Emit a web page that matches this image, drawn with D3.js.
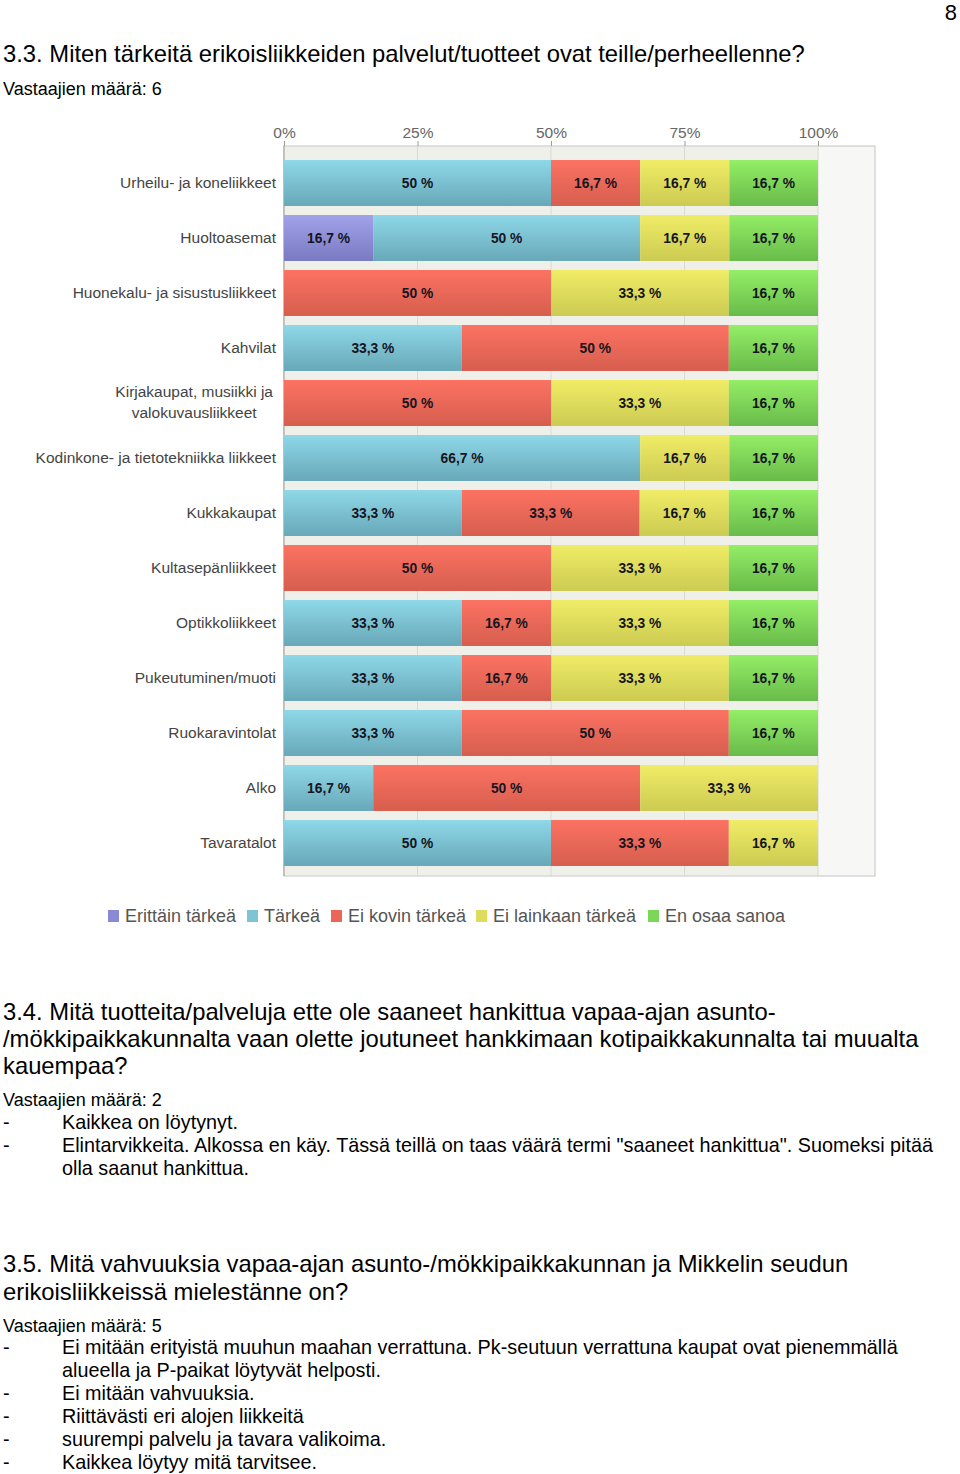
<!DOCTYPE html>
<html><head><meta charset="utf-8">
<script src="https://cdn.jsdelivr.net/npm/d3@7"></script>
<style>
html,body{margin:0;padding:0;background:#fff;}
svg{display:block;}
</style></head>
<body>
<script>
const categories = [
  "Urheilu- ja koneliikkeet",
  "Huoltoasemat",
  "Huonekalu- ja sisustusliikkeet",
  "Kahvilat",
  "Kirjakaupat, musiikki ja|valokuvausliikkeet",
  "Kodinkone- ja tietotekniikka liikkeet",
  "Kukkakaupat",
  "Kultasepänliikkeet",
  "Optikkoliikkeet",
  "Pukeutuminen/muoti",
  "Ruokaravintolat",
  "Alko",
  "Tavaratalot"
];
const seriesNames = ["Erittäin tärkeä","Tärkeä","Ei kovin tärkeä","Ei lainkaan tärkeä","En osaa sanoa"];
const erittainTarkea  = [0,16.7,0,0,0,0,0,0,0,0,0,0,0];
const tarkea          = [50,50,0,33.3,0,66.7,33.3,0,33.3,33.3,33.3,16.7,50];
const eiKovinTarkea   = [16.7,0,50,50,50,0,33.3,50,16.7,16.7,50,50,33.3];
const eiLainkaan      = [16.7,16.7,33.3,0,33.3,16.7,16.7,33.3,33.3,33.3,0,33.3,16.7];
const enOsaaSanoa     = [16.7,16.7,16.7,16.7,16.7,16.7,16.7,16.7,16.7,16.7,16.7,0,0];
const tickValues = [0,25,50,75,100];
const tickLabels = ["0%","25%","50%","75%","100%"];

const colorTop = ["#a2a2ea","#8ed8e8","#fc7262","#f0ec66","#94ee66"];
const colorBot = ["#7a7ac2","#68a8b8","#d65e4e","#cccb52","#68bb4a"];
const legendColor = ["#8a8ad4","#7ec4d2","#ea6656","#dedc5c","#7cd658"];

const seriesValues = [erittainTarkea, tarkea, eiKovinTarkea, eiLainkaan, enOsaaSanoa];
const rows = categories.map((c,i)=>{
  const o = {cat:c};
  seriesNames.forEach((s,j)=>o[s]=seriesValues[j][i]);
  return o;
});

const W=960,H=1474;
const FONT="'Liberation Sans', Arial, sans-serif";
const svg = d3.select("body").append("svg").attr("width",W).attr("height",H)
  .style("font-family",FONT);

const defs = svg.append("defs");
seriesNames.forEach((s,j)=>{
  const g = defs.append("linearGradient").attr("id","g"+j).attr("x1",0).attr("y1",0).attr("x2",0).attr("y2",1);
  g.append("stop").attr("offset","0%").attr("stop-color",colorTop[j]);
  g.append("stop").attr("offset","100%").attr("stop-color",colorBot[j]);
});

// ---- page text ----
function txt(x,y,s,size,opts={}){
  return svg.append("text").attr("x",x).attr("y",y)
    .attr("font-size",size).attr("fill",opts.fill||"#000")
    .attr("text-anchor",opts.anchor||"start").text(s);
}
const TS=23.8, VS=18, BS=19.8;
txt(957,20,"8",22,{anchor:"end"});
txt(3,62,"3.3. Miten tärkeitä erikoisliikkeiden palvelut/tuotteet ovat teille/perheellenne?",TS);
txt(3,95,"Vastaajien määrä: 6",VS);

// ---- chart ----
const x = d3.scaleLinear().domain([0,100]).range([284,818]);
const y = d3.scaleBand().domain(categories).range([155.5,870.5]).paddingInner(0.164).paddingOuter(0.082);
const plotTop=146, plotBot=876, plotRight=875;

svg.append("rect").attr("x",x(0)).attr("y",plotTop).attr("width",plotRight-x(0)).attr("height",plotBot-plotTop)
  .attr("fill","#f7f7f5").attr("stroke","#c4c4c4");
svg.append("rect").attr("x",x(0)).attr("y",plotTop+1).attr("width",x(100)-x(0)).attr("height",plotBot-plotTop-2)
  .attr("fill","#eef0e9");

svg.append("g").selectAll("line").data(tickValues.slice(1)).join("line")
  .attr("x1",d=>x(d)).attr("x2",d=>x(d)).attr("y1",plotTop).attr("y2",plotBot)
  .attr("stroke","#d8dad4");
const xAxis = d3.axisTop(x).tickValues(tickValues).tickFormat((d,i)=>tickLabels[i]).tickSize(5).tickSizeOuter(0);
const ax = svg.append("g").attr("transform",`translate(0,${plotTop})`).call(xAxis);
ax.select(".domain").remove();
ax.selectAll(".tick line").attr("stroke","#999");
ax.selectAll(".tick text").attr("font-size",15.5).attr("fill","#666")
  .attr("font-family",FONT).attr("y",-8);
svg.append("line").attr("x1",x(0)).attr("x2",x(0)).attr("y1",plotTop).attr("y2",plotBot).attr("stroke","#9a9a9a");

const stack = d3.stack().keys(seriesNames)(rows);
const segs = stack.flatMap((ser,j)=>ser.map(p=>({j,key:ser.key,x0:p[0],x1:Math.min(p[1],100),cat:p.data.cat,v:p.data[ser.key]})))
  .filter(s=>s.v>0);
const fmt = v => (v%1===0? String(v) : String(v).replace(".",","))+" %";
svg.append("g").selectAll("rect").data(segs).join("rect")
  .attr("x",d=>x(d.x0)).attr("width",d=>x(d.x1)-x(d.x0))
  .attr("y",d=>y(d.cat)).attr("height",y.bandwidth())
  .attr("fill",d=>`url(#g${d.j})`);
svg.append("g").selectAll("text").data(segs).join("text")
  .attr("x",d=>(x(d.x0)+x(d.x1))/2).attr("y",d=>y(d.cat)+y.bandwidth()/2+5)
  .attr("text-anchor","middle").attr("font-size",13.8).attr("fill","#15151f").attr("font-weight","bold")
  .text(d=>fmt(d.v));

// category labels
const cl = svg.append("g").selectAll("text").data(categories).join("text")
  .attr("font-size",15.5).attr("fill","#444")
  .attr("y",d=>y(d)+y.bandwidth()/2+5);
cl.each(function(d){
  const parts=d.split("|"); const t=d3.select(this);
  if(parts.length===1){t.attr("x",276).attr("text-anchor","end").text(d);}
  else{
    t.attr("text-anchor","middle");
    const a=t.append("tspan").attr("dy",-11).text(parts[0]);
    const b=t.append("tspan").attr("dy",21).text(parts[1]);
    const w=Math.max(a.node().getComputedTextLength(),b.node().getComputedTextLength());
    const cx=273-w/2;
    a.attr("x",cx); b.attr("x",cx);
  }
});

// legend
const legendX = [108,247,331,476,648];
const lg = svg.append("g").selectAll("g").data(seriesNames).join("g")
  .attr("transform",(d,i)=>`translate(${legendX[i]},916)`);
lg.append("rect").attr("x",0).attr("y",-6).attr("width",11).attr("height",12).attr("fill",(d,i)=>legendColor[i]);
lg.append("text").attr("x",17).attr("y",6).attr("font-size",18).attr("fill","#555").text(d=>d);

// ---- section 3.4 ----
const T2 = ["3.4. Mitä tuotteita/palveluja ette ole saaneet hankittua vapaa-ajan asunto-",
            "/mökkipaikkakunnalta vaan olette joutuneet hankkimaan kotipaikkakunnalta tai muualta",
            "kauempaa?"];
const T2y = [1020,1047,1074];
T2.forEach((s,i)=>txt(3,T2y[i],s,TS));
txt(3,1106,"Vastaajien määrä: 2",VS);
const B2 = [["Kaikkea on löytynyt."],
            ["Elintarvikkeita. Alkossa en käy. Tässä teillä on taas väärä termi \"saaneet hankittua\". Suomeksi pitää","olla saanut hankittua."]];
let yy=1129;
B2.forEach(b=>{ txt(3,yy,"-",BS); b.forEach(l=>{txt(62,yy,l,BS); yy+=23;}); });

// ---- section 3.5 ----
const T3 = ["3.5. Mitä vahvuuksia vapaa-ajan asunto-/mökkipaikkakunnan ja Mikkelin seudun",
            "erikoisliikkeissä mielestänne on?"];
[1272,1300].forEach((yv,i)=>txt(3,yv,T3[i],TS));
txt(3,1332,"Vastaajien määrä: 5",VS);
const B3 = [["Ei mitään erityistä muuhun maahan verrattuna. Pk-seutuun verrattuna kaupat ovat pienemmällä","alueella ja P-paikat löytyvät helposti."],
            ["Ei mitään vahvuuksia."],
            ["Riittävästi eri alojen liikkeitä"],
            ["suurempi palvelu ja tavara valikoima."],
            ["Kaikkea löytyy mitä tarvitsee."]];
yy=1354;
B3.forEach(b=>{ txt(3,yy,"-",BS); b.forEach(l=>{txt(62,yy,l,BS); yy+=23;}); });
</script>
</body></html>
